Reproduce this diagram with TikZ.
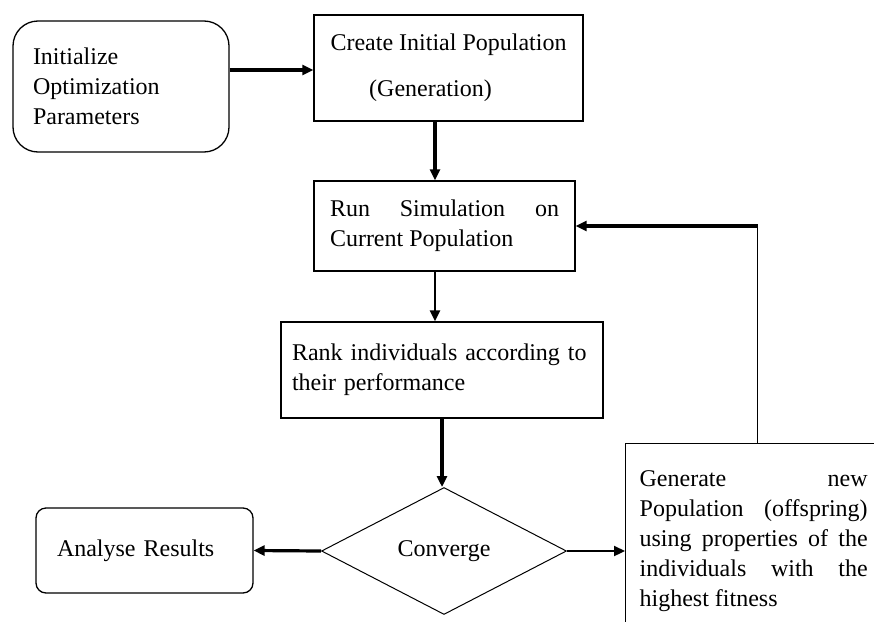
\documentclass[tikz,border=0pt]{standalone}
\usepackage{fontspec}
\setmainfont{Liberation Serif}
\usetikzlibrary{shapes.geometric, arrows.meta, positioning, calc}
\hyphenpenalty=10000
\exhyphenpenalty=10000
\tikzset{
  block/.style={rectangle,draw=black,line width=1.3pt,inner sep=0pt,
    font=\fontsize{24}{30}\selectfont},
  startend/.style={block,rounded corners=25pt},
  decision/.style={diamond,draw=black,line width=1pt,inner sep=0pt,
    font=\fontsize{24}{30}\selectfont},
  arrow/.style={-{Triangle[length=11pt,width=10pt]},line width=3.2pt,draw=black},
  thinarrow/.style={arrow,line width=2.2pt},
  fbline/.style={line width=1.4pt,draw=black}
}

\begin{document}
\begin{tikzpicture}[x=1pt,y=-1pt]
  \useasboundingbox (0,0) rectangle (874,621);
  \clip (0,0) rectangle (874,621);

  \node[startend, minimum width=216pt, minimum height=131pt, text width=176pt, align=left]
    (init) at (121,86.5) {Initialize\\Optimization\\Parameters};
  \node[block, minimum width=269pt, minimum height=106pt, align=center]
    (create) at (448.5,68) {Create Initial Population\\[16pt](Generation)\hspace*{36pt}};
  \node[block, minimum width=261pt, minimum height=90pt, text width=229pt, align=justify]
    (run) at (444.5,226) {Run Simulation on Current Population};
  \node[block, minimum width=322pt, minimum height=96pt, text width=300pt, align=left]
    (rank) at (442,370) {Rank individuals according to\\their performance};
  \node[decision, minimum width=245pt, minimum height=127pt]
    (conv) at (444,551) {Converge};
  \node[startend, rounded corners=10pt, minimum width=217pt, minimum height=85pt, text width=175pt, align=left]
    (res) at (144.5,550.5) {Analyse Results};
  \node[block, anchor=north west, minimum width=256pt, minimum height=194pt, text width=228pt, align=justify]
    (gen) at (625,443) {Generate new Population (offspring) using properties of the individuals with the highest fitness};

  \draw[arrow] ([yshift=16.5pt]init.east) -- ([yshift=16.5pt]init.east -| create.west);
  \draw[arrow] ([xshift=-13.5pt]create.south) -- ([xshift=-13.5pt]create.south |- run.north);
  \draw[thinarrow] ([xshift=-9.5pt]run.south) -- ([xshift=-9.5pt]run.south |- rank.north);
  \draw[arrow] (rank.south) -- (rank.south |- conv.north);
  \draw[arrow] (conv.west) -- (res.east);
  \draw[thinarrow] (conv.east) -- (conv.east -| gen.west);
  % loop back to the simulation
  \coordinate (turn) at ([xshift=4pt]gen.north |- run.east);
  \draw[fbline] ([xshift=4pt]gen.north) -- (turn);
  \draw[arrow] (turn) -- (run.east);
\end{tikzpicture}
\end{document}
